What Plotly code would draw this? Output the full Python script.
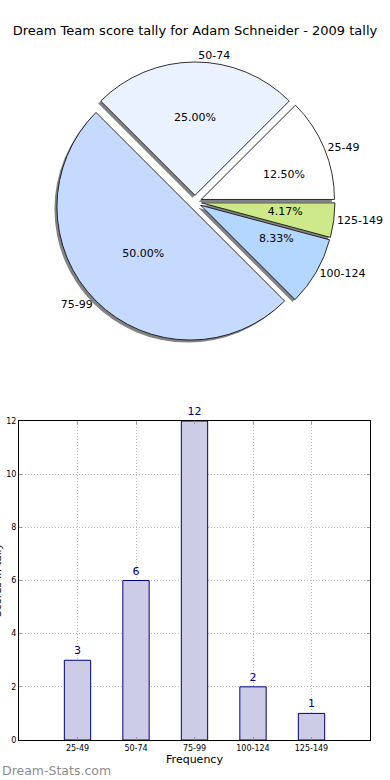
import plotly.graph_objects as go

title_text = "Dream Team score tally for Adam Schneider - 2009 tally"
categories = ["25-49", "50-74", "75-99", "100-124", "125-149"]
counts = [3, 6, 12, 2, 1]
pie_colors = ["#ffffff", "#eaf2ff", "#c6daff", "#b4d7ff", "#cde98a"]
y_ticks = [0, 2, 4, 6, 8, 10, 12]
pct_inside = ["", "%{percent:.2%}", "%{percent:.2%}", "", ""]
pct_outer = ["%{percent:.2%}", "", "", "%{percent:.2%}", "%{percent:.2%}"]

FONT = "DejaVu Sans"
W, H = 390, 780

# pie geometry (paper coords)
cx, cy_top, half = 195, 202, 140
px0, px1 = (cx - half) / W, (cx + half) / W
py0, py1 = (H - cy_top - half) / H, (H - cy_top + half) / H
pull = [0.05] * 5
dx, dy = -2.5 / W, -2.5 / H
ih = 0.5 * half
ipx0, ipx1 = (cx - ih) / W, (cx + ih) / W
ipy0, ipy1 = (H - cy_top - ih) / H, (H - cy_top + ih) / H

common = dict(labels=categories, values=counts, sort=False,
              direction="counterclockwise", rotation=45, pull=pull,
              showlegend=False)

fig = go.Figure()

# shadow
fig.add_trace(go.Pie(
    **common, textinfo="none", hoverinfo="skip",
    marker=dict(colors=["rgba(90,90,90,0.75)"] * 5, line=dict(width=0)),
    domain=dict(x=[px0 + dx, px1 + dx], y=[py0 + dy, py1 + dy]),
))
# main slices with outside category labels
fig.add_trace(go.Pie(
    **common, textinfo="label", textposition="outside", automargin=False,
    outsidetextfont=dict(family=FONT, size=11, color="black"),
    marker=dict(colors=pie_colors, line=dict(color="black", width=0.8)),
    domain=dict(x=[px0, px1], y=[py0, py1]),
))
# percentages inside the big slices
fig.add_trace(go.Pie(
    **common, texttemplate=pct_inside, textposition="inside",
    insidetextorientation="horizontal", hoverinfo="skip",
    insidetextfont=dict(family=FONT, size=11, color="black"),
    marker=dict(colors=["rgba(0,0,0,0)"] * 5, line=dict(width=0)),
    domain=dict(x=[px0, px1], y=[py0, py1]),
))
# percentages of the narrow slices, around an invisible inner pie
fig.add_trace(go.Pie(
    **common, texttemplate=pct_outer, textposition="outside",
    automargin=False, hoverinfo="skip",
    outsidetextfont=dict(family=FONT, size=11, color="black"),
    marker=dict(colors=["rgba(0,0,0,0)"] * 5, line=dict(width=0)),
    domain=dict(x=[ipx0, ipx1], y=[ipy0, ipy1]),
))

# bar chart
fig.add_trace(go.Bar(
    x=categories, y=counts, width=0.45,
    marker=dict(color="#cccce6", line=dict(color="#000080", width=1)),
    text=counts, textposition="outside", cliponaxis=False,
    textfont=dict(family=FONT, size=11, color="#000080"),
    showlegend=False,
))

axis_common = dict(
    showline=True, linecolor="black", linewidth=1, mirror="ticks",
    showgrid=True, gridcolor="#bdbdbd", griddash="1px,2px", gridwidth=1,
    ticks="inside", ticklen=3, tickcolor="#999999",
    tickfont=dict(family=FONT, size=8, color="black"),
    zeroline=False, automargin=False,
)

fig.update_layout(
    width=W, height=H,
    margin=dict(l=0, r=0, t=0, b=0),
    paper_bgcolor="white", plot_bgcolor="white",
    font=dict(family=FONT, color="black"),
    title=dict(text=title_text, xref="paper", x=0.5, xanchor="center",
               yref="container", y=1 - 30 / H, yanchor="middle",
               font=dict(family=FONT, size=13, color="black")),
    xaxis=dict(
        domain=[19 / W, 370 / W], range=[-1, 5], type="category",
        title=dict(text="Frequency", font=dict(family=FONT, size=11), standoff=2),
        **axis_common,
    ),
    yaxis=dict(
        domain=[40 / H, 359 / H], range=[0, 12], tickvals=y_ticks,
        **axis_common,
    ),
    annotations=[
        dict(
            text="Dream-Stats.com", xref="paper", yref="paper", x=0, y=10 / H,
            xanchor="left", yanchor="middle", showarrow=False,
            font=dict(family=FONT, size=12.5, color="#8c8c8c"),
        ),
        dict(
            text="Scores in tally", xref="paper", yref="paper",
            x=5 / W, y=(200 / H), xanchor="right", yanchor="middle",
            textangle=-90, showarrow=False,
            font=dict(family=FONT, size=10.5, color="black"),
        ),
    ],
)

fig.write_html(
    "out.html",
    config={"displayModeBar": False},
    post_script="document.body.style.margin='0';document.body.style.overflow='hidden';",
)
